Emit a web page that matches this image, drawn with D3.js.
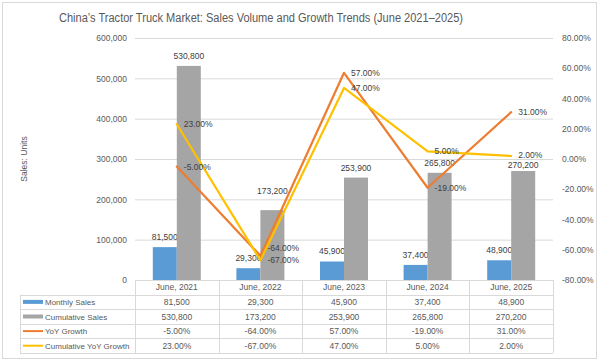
<!DOCTYPE html>
<html>
<head>
<meta charset="utf-8">
<script src="https://cdn.jsdelivr.net/npm/d3@7"></script>
<style>
  body { margin: 0; background: #fff; }
  svg { font-family: "Liberation Sans", Arial, sans-serif; }
</style>
</head>
<body>
<svg id="chart" width="600" height="362"></svg>
<script>
// data
const categories = ["June, 2021", "June, 2022", "June, 2023", "June, 2024", "June, 2025"];
const monthlySales = [81500, 29300, 45900, 37400, 48900];
const cumulativeSales = [530800, 173200, 253900, 265800, 270200];
const yoyGrowth = [-5, -64, 57, -19, 31];
const cumYoyGrowth = [23, -67, 47, 5, 2];
const salesTicks = [0, 100000, 200000, 300000, 400000, 500000, 600000];
const growthTicks = [-80, -60, -40, -20, 0, 20, 40, 60, 80];

const colors = {monthly: "#5B9BD5", cumulative: "#A5A5A5", yoy: "#ED7D31", cumYoy: "#FFC000"};
const textColor = "#595959";
const gridColor = "#D9D9D9";

const plot = {left: 135, right: 553, top: 38, bottom: 280};

const svg = d3.select("#chart");

// chart border
svg.append("rect")
  .attr("x", 2.5).attr("y", 2.5)
  .attr("width", 594).attr("height", 356)
  .attr("fill", "#fff")
  .attr("stroke", "#D9D9D9");

svg.append("text")
  .attr("x", 261).attr("y", 22)
  .attr("text-anchor", "middle")
  .attr("font-size", 12.5)
  .attr("textLength", 404)
  .attr("lengthAdjust", "spacingAndGlyphs")
  .attr("fill", textColor)
  .text("China’s Tractor Truck Market: Sales Volume and Growth Trends (June 2021–2025)");

const x = d3.scaleBand().domain(categories).range([plot.left, plot.right]);
const y = d3.scaleLinear().domain([0, 600000]).range([plot.bottom, plot.top]);
const y2 = d3.scaleLinear().domain([-80, 80]).range([plot.bottom, plot.top]);
const barW = 24;
const xSub = d3.scaleBand().domain(["monthly", "cumulative"])
  .range([x.bandwidth() / 2 - barW, x.bandwidth() / 2 + barW]);

// gridlines
svg.append("g")
  .attr("transform", "translate(" + plot.left + ",0)")
  .call(d3.axisLeft(y).tickValues(salesTicks).tickSize(-(plot.right - plot.left)).tickFormat(""))
  .call(g => g.select(".domain").remove())
  .call(g => g.selectAll("line").attr("stroke", gridColor));

// left axis labels
svg.append("g")
  .attr("transform", "translate(" + plot.left + ",0)")
  .call(d3.axisLeft(y).tickValues(salesTicks).tickSize(0).tickPadding(8).tickFormat(d3.format(",")))
  .call(g => g.select(".domain").remove())
  .call(g => g.selectAll("text").attr("fill", textColor).attr("font-size", 8.5).attr("font-family", "Liberation Sans, Arial, sans-serif"));

// right axis labels
svg.append("g")
  .attr("transform", "translate(" + plot.right + ",0)")
  .call(d3.axisRight(y2).tickValues(growthTicks).tickSize(0).tickPadding(9).tickFormat(d => d.toFixed(2) + "%"))
  .call(g => g.select(".domain").remove())
  .call(g => g.selectAll("text").attr("fill", textColor).attr("font-size", 8.5).attr("font-family", "Liberation Sans, Arial, sans-serif"));

svg.append("text")
  .attr("transform", "translate(27," + (plot.top + plot.bottom) / 2 + ") rotate(-90)")
  .attr("text-anchor", "middle")
  .attr("font-size", 8.5)
  .attr("fill", textColor)
  .text("Sales: Units");

// bars
const barSeries = [
  {key: "monthly", values: monthlySales, labelShift: [0, 0, 0, 0, 0]},
  {key: "cumulative", values: cumulativeSales, labelShift: [0, -9, 0, 0, 4]}
];
barSeries.forEach(s => {
  const g = svg.append("g");
  g.selectAll("rect")
    .data(s.values)
    .join("rect")
    .attr("x", (d, i) => x(categories[i]) + xSub(s.key))
    .attr("y", d => y(d))
    .attr("width", xSub.bandwidth())
    .attr("height", d => y(0) - y(d))
    .attr("fill", colors[s.key]);
  g.selectAll("text")
    .data(s.values)
    .join("text")
    .attr("x", (d, i) => x(categories[i]) + xSub(s.key) + xSub.bandwidth() / 2)
    .attr("y", (d, i) => y(d) - 7 + s.labelShift[i])
    .attr("text-anchor", "middle")
    .attr("font-size", 8.5)
    .attr("fill", "#404040")
    .text(d => d3.format(",")(d));
});

// lines
const lineSeries = [
  {key: "yoy", values: yoyGrowth, labelShift: [0, -8, 0, 0, 0]},
  {key: "cumYoy", values: cumYoyGrowth, labelShift: [0, 0, 0, 0, -1]}
];
const line = d3.line()
  .x((d, i) => x(categories[i]) + x.bandwidth() / 2)
  .y(d => y2(d));
lineSeries.forEach(s => {
  svg.append("path")
    .datum(s.values)
    .attr("fill", "none")
    .attr("stroke", colors[s.key])
    .attr("stroke-width", 2.2)
    .attr("stroke-linejoin", "round")
    .attr("stroke-linecap", "round")
    .attr("d", line);
});
lineSeries.forEach(s => {
  svg.append("g").selectAll("text")
    .data(s.values)
    .join("text")
    .attr("x", (d, i) => x(categories[i]) + x.bandwidth() / 2 + 7)
    .attr("y", (d, i) => y2(d) + 3 + s.labelShift[i])
    .attr("font-size", 8.5)
    .attr("fill", "#404040")
    .text(d => d.toFixed(2) + "%");
});

// data table
const rowH = 14.6;
const tableLeft = 20;
const rows = [
  {name: "Monthly Sales", values: monthlySales, fmt: d3.format(","), color: colors.monthly, swatch: "bar"},
  {name: "Cumulative Sales", values: cumulativeSales, fmt: d3.format(","), color: colors.cumulative, swatch: "bar"},
  {name: "YoY Growth", values: yoyGrowth, fmt: d => d.toFixed(2) + "%", color: colors.yoy, swatch: "line"},
  {name: "Cumulative YoY Growth", values: cumYoyGrowth, fmt: d => d.toFixed(2) + "%", color: colors.cumYoy, swatch: "line"}
];
const table = svg.append("g").attr("stroke-width", 1);
const rowTop = i => plot.bottom + rowH * (i + 1);

// horizontal borders
table.append("line")
  .attr("x1", plot.left).attr("x2", plot.right)
  .attr("y1", plot.bottom + 0.5).attr("y2", plot.bottom + 0.5)
  .attr("stroke", gridColor);
d3.range(rows.length + 1).forEach(i => {
  table.append("line")
    .attr("x1", tableLeft).attr("x2", plot.right)
    .attr("y1", Math.round(rowTop(i)) + 0.5).attr("y2", Math.round(rowTop(i)) + 0.5)
    .attr("stroke", gridColor);
});
// vertical borders
table.append("line")
  .attr("x1", tableLeft + 0.5).attr("x2", tableLeft + 0.5)
  .attr("y1", rowTop(0)).attr("y2", rowTop(rows.length))
  .attr("stroke", gridColor);
categories.concat([null]).forEach((c, i) => {
  const xv = Math.round(c ? x(c) : plot.right) + 0.5;
  table.append("line")
    .attr("x1", xv).attr("x2", xv)
    .attr("y1", plot.bottom).attr("y2", rowTop(rows.length))
    .attr("stroke", gridColor);
});

// header
table.selectAll("text.head")
  .data(categories)
  .join("text")
  .attr("class", "head")
  .attr("x", d => x(d) + x.bandwidth() / 2)
  .attr("y", plot.bottom + rowH / 2 + 3)
  .attr("text-anchor", "middle")
  .attr("font-size", 8.5)
  .attr("fill", textColor)
  .text(d => d);

rows.forEach((r, ri) => {
  const cy = rowTop(ri) + rowH / 2;
  if (r.swatch === "bar") {
    table.append("rect")
      .attr("x", 23).attr("y", cy - 2)
      .attr("width", 20).attr("height", 4)
      .attr("fill", r.color);
  } else {
    table.append("line")
      .attr("x1", 23).attr("x2", 43)
      .attr("y1", cy).attr("y2", cy)
      .attr("stroke", r.color).attr("stroke-width", 2);
  }
  table.append("text")
    .attr("x", 45).attr("y", cy + 3)
    .attr("font-size", 8)
    .attr("fill", textColor)
    .text(r.name);
  table.selectAll("text.v" + ri)
    .data(r.values)
    .join("text")
    .attr("class", "v" + ri)
    .attr("x", (d, i) => x(categories[i]) + x.bandwidth() / 2)
    .attr("y", cy + 3)
    .attr("text-anchor", "middle")
    .attr("font-size", 8.5)
    .attr("fill", textColor)
    .text(r.fmt);
});
</script>
</body>
</html>
